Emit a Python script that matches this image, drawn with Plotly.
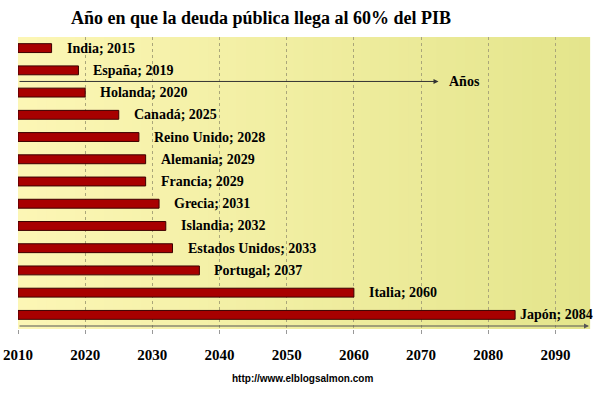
import plotly.graph_objects as go

paises = ["India", "España", "Holanda", "Canadá", "Reino Unido", "Alemania", "Francia",
          "Grecia", "Islandia", "Estados Unidos", "Portugal", "Italia", "Japón"]
anios = [2015, 2019, 2020, 2025, 2028, 2029, 2029, 2031, 2032, 2033, 2037, 2060, 2084]
tick_vals = [2010, 2020, 2030, 2040, 2050, 2060, 2070, 2080, 2090]
titulo = "Año en que la deuda pública llega al 60% del PIB"
fuente = "http://www.elblogsalmon.com"
eje_label = "Años"

X0, X1 = 2010, 2095
SERIF = "Liberation Serif, Times New Roman, serif"

fig = go.Figure()
fig.add_trace(go.Bar(
    y=paises, x=[a - X0 for a in anios], base=X0, orientation="h",
    width=0.4,
    marker=dict(color="#a80000", line=dict(color="#3c0000", width=1)),
    hoverinfo="skip", showlegend=False,
))

# gradient background via thin strips
shapes = []
n = 60
def mix(c1, c2, t):
    return "rgb(%d,%d,%d)" % tuple(round(a + (b - a) * t) for a, b in zip(c1, c2))
c_left = (252, 246, 181)
c_right = (228, 229, 140)
for i in range(n):
    shapes.append(dict(type="rect", xref="paper", yref="paper",
                       x0=i / n, x1=(i + 1) / n + 0.002, y0=0, y1=1,
                       fillcolor=mix(c_left, c_right, i / (n - 1)),
                       line=dict(width=0), layer="below"))

annotations = []
for p, a in zip(paises, anios):
    annotations.append(dict(
        x=a, y=p, xref="x", yref="y", text="<b>%s; %d</b>" % (p, a),
        showarrow=False, xanchor="left", yanchor="middle",
        xshift=3 if a > 2080 else 13, yshift=0,
        font=dict(family=SERIF, size=14, color="#000")))

# "Años" arrow
annotations.append(dict(x=2072.6, y=1.5, ax=X0, ay=1.5, xref="x", yref="y",
                        axref="x", ayref="y", text="", showarrow=True,
                        arrowhead=2, arrowsize=1, arrowwidth=1, arrowcolor="#333"))
annotations.append(dict(x=2072.6, y=1.5, xref="x", yref="y", text="<b>%s</b>" % eje_label,
                        showarrow=False, xanchor="left", xshift=8,
                        font=dict(family=SERIF, size=14, color="#000")))
# bottom axis arrow
annotations.append(dict(x=X1, y=12.5, ax=X0, ay=12.5, xref="x", yref="y",
                        axref="x", ayref="y", text="", showarrow=True,
                        arrowhead=2, arrowsize=1, arrowwidth=1, arrowcolor="#555"))
# footer
annotations.append(dict(x=0.499, y=-0.168, xref="paper", yref="paper",
                        text="<b>%s</b>" % fuente, showarrow=False,
                        xanchor="center", yanchor="middle",
                        font=dict(family="Liberation Sans, Arial, sans-serif", size=10, color="#000")))
# title
annotations.append(dict(x=0.425, y=1, xref="paper", yref="paper", yshift=19,
                        text="<b>%s</b>" % titulo, showarrow=False,
                        xanchor="center", yanchor="middle",
                        font=dict(family=SERIF, size=18, color="#000")))

fig.update_layout(
    width=600, height=395,
    margin=dict(l=18, r=11, t=37, b=66, autoexpand=False),
    paper_bgcolor="white", plot_bgcolor="rgba(0,0,0,0)",
    shapes=shapes, annotations=annotations, bargap=0.6,
    xaxis=dict(range=[X0, X1], tickvals=tick_vals, automargin=False,
               ticktext=["<b>%d</b>" % v for v in tick_vals],
               ticklabeloverflow="allow",
               tickfont=dict(family=SERIF, size=15, color="#000"),
               showgrid=True, gridcolor="#aaa67a", griddash="3px,3px", gridwidth=1,
               zeroline=False, showline=False,
               ticks="outside", ticklen=4, tickcolor="#999", ticklabelstandoff=8),
    yaxis=dict(autorange="reversed", showticklabels=False, showgrid=False,
               zeroline=False, showline=False, range=[12.5, -0.5], automargin=False),
)
fig.write_html("out.html", config={"displayModeBar": False},
               post_script="document.body.style.margin='0';")
